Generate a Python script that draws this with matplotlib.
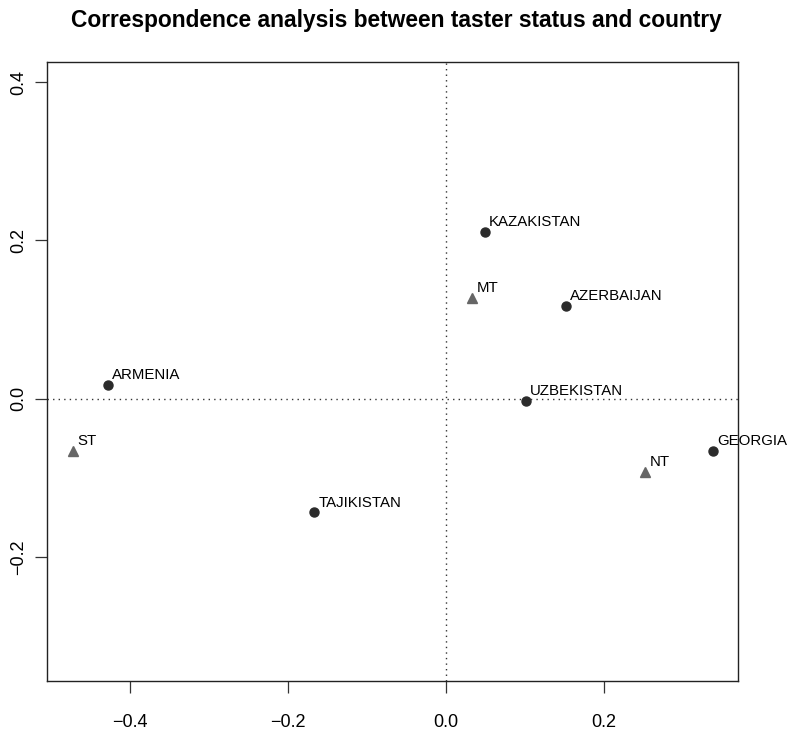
import numpy as np
import matplotlib
matplotlib.use('Agg')
import matplotlib.pyplot as plt

plt.rcParams['font.family'] = ['Liberation Sans', 'DejaVu Sans']

# countries (column points)
countries = ['KAZAKISTAN', 'AZERBAIJAN', 'ARMENIA', 'UZBEKISTAN', 'GEORGIA', 'TAJIKISTAN']
country_x = [0.049, 0.152, -0.428, 0.101, 0.338, -0.167]
country_y = [0.211, 0.117, 0.017, -0.003, -0.066, -0.144]

# taster status (row points)
status = ['MT', 'ST', 'NT']
status_x = [0.033, -0.472, 0.252]
status_y = [0.127, -0.066, -0.093]

title = 'Correspondence analysis between taster status and country'

fig = plt.figure(figsize=(7.92, 7.30), dpi=100)
ax = fig.add_axes([47.3 / 792, 1 - 681.3 / 730, (738 - 47.3) / 792, (681.3 - 62.3) / 730])

ax.axhline(0, color='#333333', lw=1, ls=(0, (1, 3)), zorder=1)
ax.axvline(0, color='#333333', lw=1, ls=(0, (1, 3)), zorder=1)

ax.plot(country_x, country_y, 'o', color='#2b2b2b', ms=6.5, zorder=3)
ax.plot(status_x, status_y, '^', color='#666666', ms=7.5, mec='#666666', zorder=3)

for name, x, y in zip(countries + status, country_x + status_x, country_y + status_y):
    ax.annotate(name, (x, y), xytext=(3, 2), textcoords='offset points',
                ha='left', va='bottom', fontsize=10.8, color='black',
                annotation_clip=False, clip_on=False)

ax.set_xlim(-0.5047, 0.3696)
ax.set_ylim(-0.3575, 0.4253)
ax.set_xticks([-0.4, -0.2, 0.0, 0.2])
ax.set_yticks([-0.2, 0.0, 0.2, 0.4])
ax.set_xticklabels(['\u22120.4', '\u22120.2', '0.0', '0.2'])
ax.set_yticklabels(['\u22120.2', '0.0', '0.2', '0.4'], rotation=90, va='center')
ax.tick_params(axis='both', length=8.5, width=0.9, labelsize=13, color='#333333')
ax.tick_params(axis='x', pad=15)
ax.tick_params(axis='y', pad=6)
for s in ax.spines.values():
    s.set_linewidth(1)
    s.set_color('#222222')

fig.text(0.5, 1 - 20 / 730, title, ha='center', va='center', fontsize=16.4, fontweight='bold')

fig.savefig('out.png', dpi=100)
